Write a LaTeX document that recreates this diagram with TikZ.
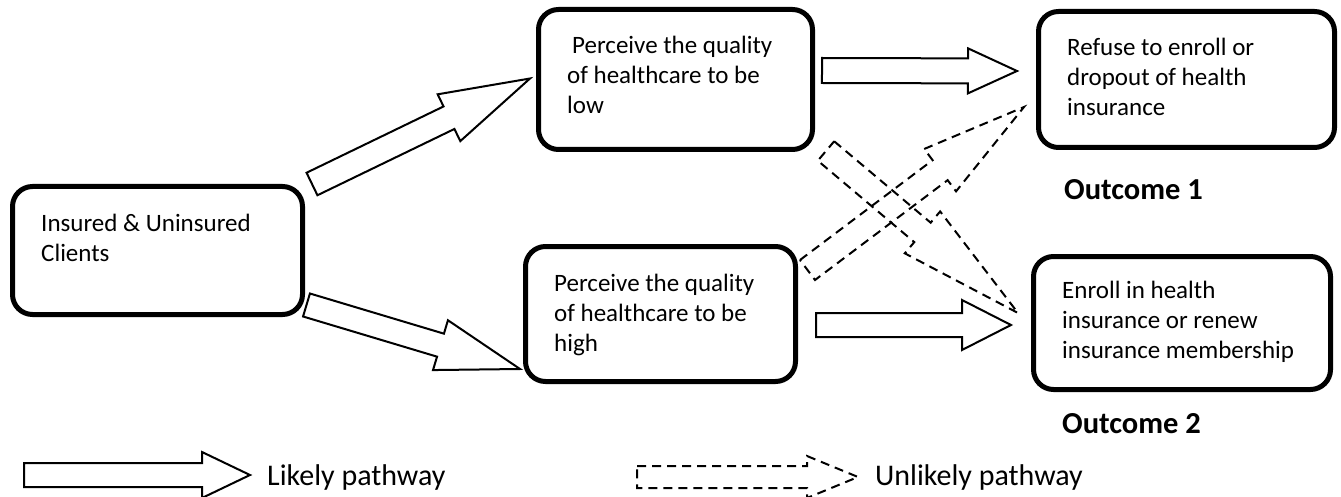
\documentclass[tikz,border=0pt]{standalone}
\usepackage{fontspec}
\setmainfont{Carlito}
\usetikzlibrary{calc}
\tikzset{
  box/.style={draw, line width=5pt, rounded corners=20pt, inner sep=0pt},
  boxtext/.style={align=left, anchor=base west, inner sep=0pt, font=\fontsize{25}{30}\selectfont},
  outcome/.style={anchor=base west, inner sep=0pt, font=\fontsize{30.5}{36}\selectfont\bfseries},
  legendtext/.style={anchor=base west, inner sep=0pt, font=\fontsize{30}{36}\selectfont},
  likely/.style={draw, line width=2pt, fill=white},
  unlikely/.style={draw, line width=2pt, dash pattern=on 9pt off 6pt},
}
\def\blockArrow#1#2#3#4#5#6{
  \draw[#1] let \p1=(#2), \p2=(#3),
    \n1={atan2(\y2-\y1,\x2-\x1)}, \n2={veclen(\x2-\x1,\y2-\y1)-#6} in
    ($(\p1)+(\n1+90:#4pt)$) -- ($(\p1)+(\n1:\n2)+(\n1+90:#4pt)$)
    -- ($(\p1)+(\n1:\n2)+(\n1+90:#5pt)$) -- (\p2)
    -- ($(\p1)+(\n1:\n2)+(\n1-90:#5pt)$) -- ($(\p1)+(\n1:\n2)+(\n1-90:#4pt)$)
    -- ($(\p1)+(\n1-90:#4pt)$) -- cycle;
}
\begin{document}
\begin{tikzpicture}[x=1pt, y=-1pt]
  \useasboundingbox (0,0) rectangle (1341,497);
  \node[box, minimum width=290pt, minimum height=128pt] (ins) at (157.5,250.5) {};
  \node[box, minimum width=274pt, minimum height=140pt] (low) at (675.5,79.5) {};
  \node[box, minimum width=270pt, minimum height=135pt] (high) at (660.5,314) {};
  \node[box, minimum width=296pt, minimum height=136pt] (out1) at (1186.5,79.5) {};
  \node[box, minimum width=297pt, minimum height=133pt] (out2) at (1182,323) {};

  %% base is the last line
  \node[boxtext] (insT) at ([shift={(31,77)}]ins.north west) {Insured \& Uninsured\\Clients};
  \node[boxtext] (lowT) at ([shift={(31,107)}]low.north west) {\hspace*{0.2em}Perceive the quality\\of healthcare to be\\low};
  \node[boxtext] (highT) at ([shift={(31,107)}]high.north west) {Perceive the quality\\of healthcare to be\\high};
  \node[boxtext] (out1T) at ([shift={(31,107)}]out1.north west) {Refuse to enroll or\\dropout of health\\insurance};
  \node[boxtext] (out2T) at ([shift={(31,104)}]out2.north west) {Enroll in health\\insurance or renew\\insurance membership};
  \node[outcome] (oc1) at ([shift={(28,50)}]out1.south west) {Outcome 1};
  \node[outcome] (oc2) at ([shift={(31,41)}]out2.south west) {Outcome 2};

  \blockArrow{likely}{[shift={(7,0)}]ins.north east}{[shift={(-6,-1)}]low.west}{12.5}{26}{90}
  \blockArrow{likely}{[shift={(1.5,-12)}]ins.south east}{[shift={(-3,-15)}]high.south west}{12}{26}{83}
  \blockArrow{likely}{[shift={(7,-9)}]low.east}{[shift={(-19,-8.5)}]out1.west}{12.5}{22.5}{49}
  \blockArrow{likely}{[shift={(18,11)}]high.east}{[shift={(-20,2)}]out2.west}{12}{25}{49}
  \blockArrow{unlikely}{[shift={(9.5,26)}]high.north east}{[shift={(-12,27.5)}]out1.west}{12.5}{26.5}{105}
  \blockArrow{unlikely}{[shift={(11,-1)}]low.south east}{[shift={(-13,-10)}]out2.west}{12.7}{27.4}{125}

  \coordinate (likeTail) at (24,475);
  \coordinate (likeTip) at (250,475);
  \coordinate (unlikeTail) at (637,477);
  \coordinate (unlikeTip) at (858,477);
  \blockArrow{likely}{likeTail}{likeTip}{12}{23}{48}
  \blockArrow{unlikely}{unlikeTail}{unlikeTip}{11}{21}{51}
  \node[legendtext] (likeT) at (267,485) {Likely pathway};
  \node[legendtext] (unlikeT) at (875,485) {Unlikely pathway};
\end{tikzpicture}
\end{document}
